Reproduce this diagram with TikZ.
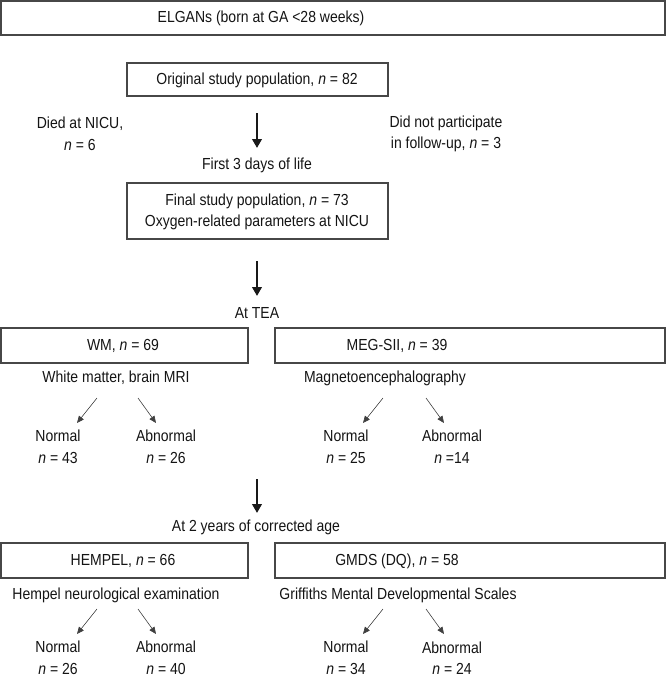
\documentclass[tikz,border=0pt]{standalone}
\usepackage{fontspec}
\setmainfont[FakeStretch=0.875]{Liberation Sans}
\usetikzlibrary{arrows.meta}
\newcommand{\nn}{\textit{n}}
\tikzset{
  txt/.style={inner sep=0pt, text=black!92, font=\fontsize{16}{21.5}\selectfont, align=center},
  box/.style={draw=black!72, line width=1.2pt},
  bigarrow/.style={line width=2.7pt, draw=black!90, -{Triangle[length=9pt,width=9.5pt]}},
  smallarrow/.style={line width=0.6pt, draw=black!75, -{Triangle[length=7pt,width=6pt]}}
}
\begin{document}
\begin{tikzpicture}[x=1pt,y=-1pt]
\useasboundingbox (0,0) rectangle (666,677);
% boxes
\draw[box] (1,1) rectangle (665,35);
\draw[box] (127,63) rectangle (388,96);
\draw[box] (127,183) rectangle (388,239);
\draw[box] (1,328) rectangle (248,363);
\draw[box] (275,328) rectangle (665,363);
\draw[box] (1,543) rectangle (248,578);
\draw[box] (275,543) rectangle (665,578);
% texts
\node[txt] (elgan) at (261,18) {ELGANs (born at GA <28 weeks)};
\node[txt] (orig) at (257,80) {Original study population, \nn{} = 82};
\node[txt] (died) at (80,134) {Died at NICU,\\\nn{} = 6};
\node[txt] (notp) at (446,134) {Did not participate\\in follow-up, \nn{} = 3};
\node[txt] (first) at (257,165) {First 3 days of life};
\node[txt] (final) at (257,212) {Final study population, \nn{} = 73\\Oxygen-related parameters at NICU};
\node[txt] (tea) at (257,313) {At TEA};
\node[txt] (wm) at (123,346) {WM, \nn{} = 69};
\node[txt] (meg) at (397,346) {MEG-SII, \nn{} = 39};
\node[txt] (wmcap) at (116,378) {White matter, brain MRI};
\node[txt] (megcap) at (385,378) {Magnetoencephalography};
\node[txt] (wmN) at (58,447) {Normal\\\nn{} = 43};
\node[txt] (wmA) at (166,447) {Abnormal\\\nn{} = 26};
\node[txt] (megN) at (346,447) {Normal\\\nn{} = 25};
\node[txt] (megA) at (452,446.5) {Abnormal\\\nn{} =14};
\node[txt] (two) at (256,527) {At 2 years of corrected age};
\node[txt] (hem) at (123,561) {HEMPEL, \nn{} = 66};
\node[txt] (gmds) at (397,561) {GMDS (DQ), \nn{} = 58};
\node[txt] (hemcap) at (116,595) {Hempel neurological examination};
\node[txt] (gmdscap) at (398,595) {Griffiths Mental Developmental Scales};
\node[txt] (hemN) at (58,658) {Normal\\\nn{} = 26};
\node[txt] (hemA) at (166,658) {Abnormal\\\nn{} = 40};
\node[txt] (gmdsN) at (346,658) {Normal\\\nn{} = 34};
\node[txt] (gmdsA) at (452,658) {Abnormal\\\nn{} = 24};
% big arrows
\coordinate (a1s) at (257,113); \coordinate (a1e) at (257,148);
\coordinate (a2s) at (257,261); \coordinate (a2e) at (257,296);
\coordinate (a3s) at (257,479); \coordinate (a3e) at (257,513);
\draw[bigarrow] (a1s) -- (a1e);
\draw[bigarrow] (a2s) -- (a2e);
\draw[bigarrow] (a3s) -- (a3e);
% small arrows
\foreach \y/\yy/\nm in {398/423/t, 609/634/b}{
  \coordinate (l1s\nm) at (97,\y);  \coordinate (l1e\nm) at (77,\yy);
  \coordinate (l2s\nm) at (138,\y); \coordinate (l2e\nm) at (156,\yy);
  \coordinate (r1s\nm) at (383,\y); \coordinate (r1e\nm) at (363,\yy);
  \coordinate (r2s\nm) at (426,\y); \coordinate (r2e\nm) at (444,\yy);
  \draw[smallarrow] (l1s\nm) -- (l1e\nm);
  \draw[smallarrow] (l2s\nm) -- (l2e\nm);
  \draw[smallarrow] (r1s\nm) -- (r1e\nm);
  \draw[smallarrow] (r2s\nm) -- (r2e\nm);
}
\end{tikzpicture}
\end{document}
